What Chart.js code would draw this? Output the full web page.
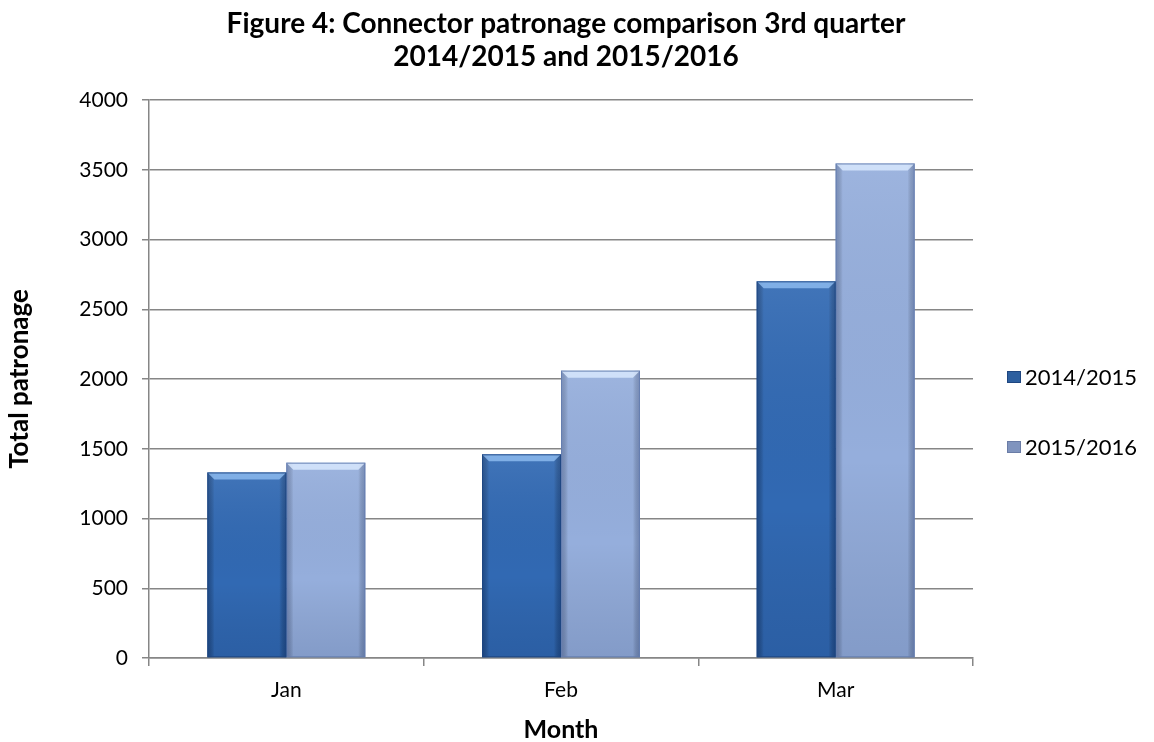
<!DOCTYPE html>
<html>
<head>
<meta charset="utf-8">
<script src="https://cdn.jsdelivr.net/npm/chart.js@4/dist/chart.umd.min.js"></script>
<style>
  html, body { margin: 0; padding: 0; background: #ffffff; }
  #wrap { width: 1154px; height: 742px; }
</style>
</head>
<body>
<div id="wrap"><canvas id="chart" width="1154" height="742"></canvas></div>
<script>
const months = ['Jan', 'Feb', 'Mar'];
const series2014 = [1330, 1460, 2700];
const series2015 = [1400, 2060, 3545];
const seriesNames = ['2014/2015', '2015/2016'];
const yTicks = [0, 500, 1000, 1500, 2000, 2500, 3000, 3500, 4000];
const titleLines = ['Figure 4: Connector patronage comparison 3rd quarter', '2014/2015 and 2015/2016'];

const FONT = "Lato, 'Open Sans', sans-serif";
const barFill = ['#3169B3', '#95AEDC'];
const legendFill = ['#2D5F9F', '#8094BE'];
const legendEdge = ['#1E4680', '#6A7CA6'];

// Bevelled column look: darker sides, lighter top edge.
const bevelPlugin = {
  id: 'bevel',
  afterDatasetDraw(chart, args) {
    const meta = chart.getDatasetMeta(args.index);
    const c = chart.ctx;
    const dark = args.index === 0;
    meta.data.forEach(bar => {
      const left = bar.x - bar.width / 2;
      const right = bar.x + bar.width / 2;
      const top = bar.y;
      const bottom = bar.base;
      const b = 7;
      c.save();
      const g = c.createLinearGradient(left, 0, right, 0);
      const edge = dark ? 'rgba(10,40,90,0.45)' : 'rgba(60,80,130,0.40)';
      g.addColorStop(0, edge);
      g.addColorStop(0.09, 'rgba(0,0,0,0)');
      g.addColorStop(0.91, 'rgba(0,0,0,0)');
      g.addColorStop(1, edge);
      c.fillStyle = g;
      c.fillRect(left, top, right - left, bottom - top);
      const gv = c.createLinearGradient(0, top, 0, bottom);
      gv.addColorStop(0, 'rgba(255,255,255,0.08)');
      gv.addColorStop(0.6, 'rgba(0,0,0,0)');
      gv.addColorStop(1, 'rgba(0,20,60,0.12)');
      c.fillStyle = gv;
      c.fillRect(left, top, right - left, bottom - top);
      c.beginPath();
      c.moveTo(left, top);
      c.lineTo(right, top);
      c.lineTo(right - b, top + b);
      c.lineTo(left + b, top + b);
      c.closePath();
      c.fillStyle = dark ? 'rgba(150,195,245,0.75)' : 'rgba(220,235,255,0.8)';
      c.fill();
      c.strokeStyle = dark ? 'rgba(30,70,130,0.9)' : 'rgba(100,125,175,0.9)';
      c.lineWidth = 1;
      c.strokeRect(left + 0.5, top + 0.5, right - left - 1, bottom - top - 1);
      c.restore();
    });
  }
};

// Two-line heading and the series key on the right.
const headingAndKey = {
  id: 'headingAndKey',
  afterDraw(chart) {
    const c = chart.ctx;
    c.save();
    c.fillStyle = '#000000';
    c.textAlign = 'center';
    c.textBaseline = 'middle';
    c.font = "bold 28px " + FONT;
    const cx = 566;
    c.fillText(titleLines[0], cx, 24);
    c.fillText(titleLines[1], cx, 57);

    c.textAlign = 'left';
    c.font = "22px " + FONT;
    const keyY = [377, 447];
    chart.data.datasets.forEach((ds, i) => {
      const y = keyY[i];
      c.fillStyle = legendFill[i];
      c.fillRect(1007, y - 6, 14, 12);
      c.strokeStyle = legendEdge[i];
      c.lineWidth = 1;
      c.strokeRect(1007.5, y - 5.5, 13, 11);
      c.fillStyle = '#000000';
      c.fillText(ds.label, 1025, y + 1);
    });
    c.restore();
  }
};

new Chart(document.getElementById('chart'), {
  type: 'bar',
  data: {
    labels: months,
    datasets: [
      {
        label: seriesNames[0],
        data: series2014,
        backgroundColor: barFill[0],
        borderWidth: 0,
        barPercentage: 1.0,
        categoryPercentage: 0.575
      },
      {
        label: seriesNames[1],
        data: series2015,
        backgroundColor: barFill[1],
        borderWidth: 0,
        barPercentage: 1.0,
        categoryPercentage: 0.575
      }
    ]
  },
  options: {
    responsive: false,
    animation: false,
    layout: { padding: { left: 0, right: 181, top: 100, bottom: 0 } },
    plugins: {
      title: { display: false },
      legend: { display: false },
      tooltip: { enabled: false }
    },
    scales: {
      x: {
        afterFit(scale) { scale.height = 84; },
        grid: {
          display: true,
          drawOnChartArea: false,
          offset: true,
          color: '#868686',
          tickLength: 8,
          lineWidth: 1.5
        },
        border: { color: '#868686', width: 1.5 },
        ticks: { color: '#000000', font: { family: FONT, size: 21 }, padding: 12 },
        title: {
          display: true,
          text: 'Month',
          color: '#000000',
          font: { family: FONT, size: 25, weight: 'bold', lineHeight: 1 },
          padding: { top: 0, bottom: 0 }
        }
      },
      y: {
        min: 0,
        max: 4000,
        afterFit(scale) { scale.width = 149; },
        afterBuildTicks(scale) { scale.ticks = yTicks.map(v => ({ value: v })); },
        grid: {
          color: '#868686',
          lineWidth: 1.5,
          tickLength: 7,
          drawTicks: true
        },
        border: { color: '#868686', width: 1.5 },
        ticks: {
          color: '#000000',
          font: { family: FONT, size: 21 },
          padding: 14,
          callback: v => String(v)
        },
        title: {
          display: true,
          text: 'Total patronage',
          color: '#000000',
          font: { family: FONT, size: 26, weight: 'bold', lineHeight: 1 },
          padding: { top: 7, bottom: 0 }
        }
      }
    }
  },
  plugins: [bevelPlugin, headingAndKey]
});
</script>
</body>
</html>
